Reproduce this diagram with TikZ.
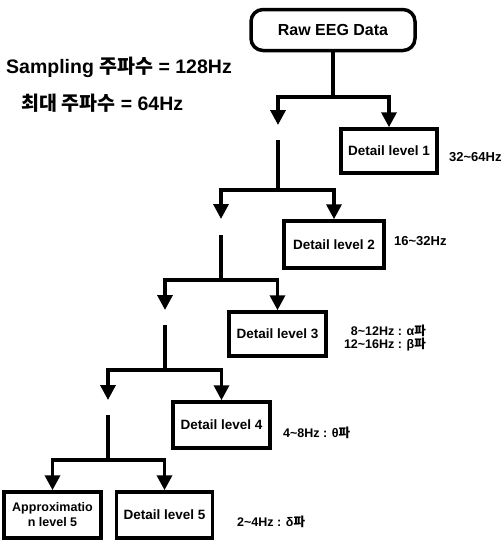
\documentclass[tikz,border=0pt]{standalone}
\usepackage{fontspec}
\setmainfont{Liberation Sans}
\newfontfamily\kr{Noto Sans CJK KR}
\usetikzlibrary{arrows.meta}
\begin{document}
\begin{tikzpicture}[x=1pt,y=-1pt,
  box/.style={draw, line width=3.5pt, inner sep=0pt, align=center,
    font=\bfseries\fontsize{13.5}{15}\selectfont},
  conn/.style={line width=3.5pt},
  arr/.style={conn, -{Triangle[width=15pt,length=15pt]}},
  lbl/.style={inner sep=0pt, font=\bfseries\fontsize{12.5}{13.5}\selectfont},
  big/.style={inner sep=0pt, font=\bfseries\fontsize{19.5}{22}\selectfont}]
\useasboundingbox (0,0) rectangle (504,542);
\fill[white] (0,0) rectangle (504,542);

% boxes
\node[box, rounded corners=12pt, minimum width=164pt, minimum height=41pt,
  font=\bfseries\fontsize{16}{18}\selectfont] (raw) at (333,30) {Raw EEG Data};
\node[box, minimum width=96pt, minimum height=44pt] (d1) at (389,151) {Detail level 1};
\node[box, minimum width=100pt, minimum height=47pt] (d2) at (334,244.5) {Detail level 2};
\node[box, minimum width=97pt, minimum height=44pt] (d3) at (277.5,334) {Detail level 3};
\node[box, minimum width=97pt, minimum height=46pt] (d4) at (221.5,425) {Detail level 4};
\node[box, minimum width=97pt, minimum height=46pt,
  font=\bfseries\fontsize{12.5}{15}\selectfont] (a5) at (52.5,515) {Approximatio\\n level 5};
\node[box, minimum width=96pt, minimum height=46pt] (d5) at (164.5,515) {Detail level 5};

% level 1
\coordinate (j1) at (333,97);
\coordinate (f1) at (278,125);
\draw[conn] (raw.south) -- (j1);
\draw[arr] (j1) -| (f1);
\draw[arr] (j1) -| (d1.north);

% level 2
\coordinate (s2) at (278,140);
\coordinate (j2) at (278,190);
\coordinate (f2) at (221,219);
\draw[conn] (s2) -- (j2);
\draw[arr] (j2) -| (f2);
\draw[arr] (j2) -| (d2.north);

% level 3
\coordinate (s3) at (221,235);
\coordinate (j3) at (221,280);
\coordinate (f3) at (165,310);
\draw[conn] (s3) -- (j3);
\draw[arr] (j3) -| (f3);
\draw[arr] (j3) -| (d3.north);

% level 4
\coordinate (s4) at (165,325);
\coordinate (j4) at (165,370);
\coordinate (f4) at (108,400);
\draw[conn] (s4) -- (j4);
\draw[arr] (j4) -| (f4);
\draw[arr] (j4) -| (d4.north);

% level 5
\coordinate (s5) at (108,415);
\coordinate (j5) at (108,460);
\draw[conn] (s5) -- (j5);
\draw[arr] (j5) -| (a5.north);
\draw[arr] (j5) -| (d5.north);

% labels
\node[big, anchor=west] (samp) at (6,67) {Sampling {\kr\bfseries 주파수} = 128Hz};
\node[big, anchor=west] (maxf) at (21,103) {{\kr\bfseries 최대 주파수} = 64Hz};

\node[lbl, anchor=west, font=\bfseries\fontsize{13}{14}\selectfont] (h1) at (449,157) {32\textasciitilde 64Hz};
\node[lbl, anchor=west, font=\bfseries\fontsize{13}{14}\selectfont] (h2) at (394,241) {16\textasciitilde 32Hz};
\node[lbl, anchor=east, align=right] (h3) at (426,338) {8\textasciitilde 12Hz : α{\kr\bfseries 파}\\12\textasciitilde 16Hz : β{\kr\bfseries 파}};
\node[lbl, anchor=west] (h4) at (283,433) {4\textasciitilde 8Hz : θ{\kr\bfseries 파}};
\node[lbl, anchor=west] (h5) at (237,522) {2\textasciitilde 4Hz : δ{\kr\bfseries 파}};
\end{tikzpicture}
\end{document}
